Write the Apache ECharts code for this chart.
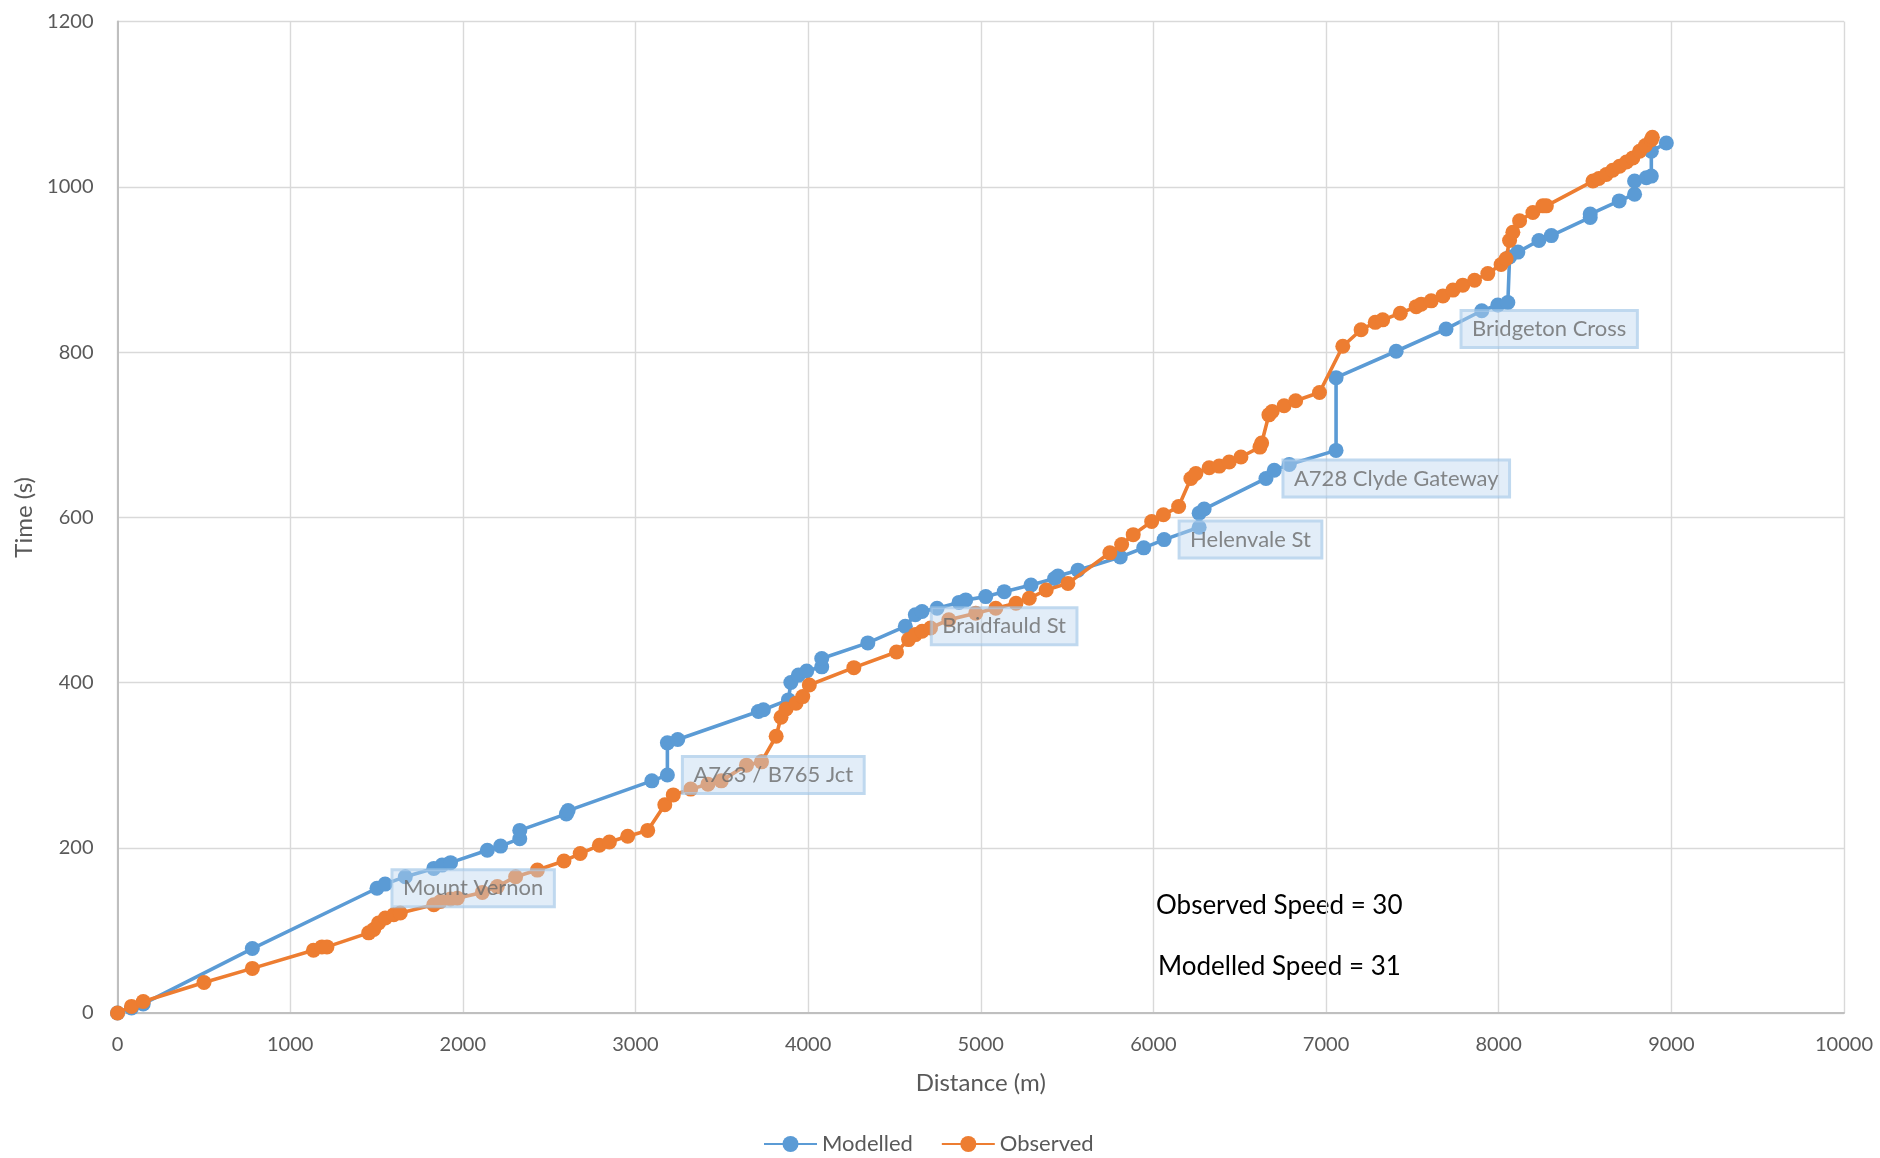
<!DOCTYPE html>
<html>
<head>
<meta charset="utf-8">
<script src="https://cdn.jsdelivr.net/npm/echarts@6/dist/echarts.min.js"></script>
<style>
html,body{margin:0;padding:0;background:#fff;}
#chart{width:1880px;height:1158px;}
</style>
</head>
<body>
<div id="chart"></div>
<script>
// ---- Data (distance in m, time in s) ----
const modelledDist = [0, 81, 149, 781, 1503, 1550, 1667, 1832, 1880, 1929, 2142, 2219, 2330, 2330, 2600, 2610,
  3095, 3185, 3185, 3245, 3712, 3741, 3886, 3900, 3944, 3992, 4079, 4079, 4346, 4563, 4621, 4660, 4747,
  4874, 4913, 5029, 5136, 5291, 5428, 5447, 5563, 5808, 5944, 6062, 6265, 6265, 6294, 6652, 6700, 6787,
  7058, 7058, 7406, 7695, 7902, 7995, 8053, 8063, 8111, 8233, 8305, 8530, 8530, 8698, 8787, 8787, 8855,
  8884, 8884, 8971];
const modelledTime = [0, 6, 11, 78, 151, 156, 165, 175, 179, 182, 197, 202, 211, 221, 241, 245,
  281, 288, 327, 331, 365, 367, 379, 400, 409, 414, 419, 429, 448, 468, 482, 486, 490,
  497, 500, 504, 510, 518, 526, 529, 536, 552, 563, 573, 588, 605, 610, 647, 657, 664,
  681, 769, 801, 828, 850, 857, 860, 915, 921, 935, 941, 963, 967, 983, 991, 1007, 1011,
  1013, 1043, 1053];

const observedDist = [0, 81, 149, 501, 781, 1135, 1184, 1213, 1455, 1484, 1512, 1551, 1600, 1638, 1832, 1871,
  1929, 1968, 2113, 2200, 2306, 2432, 2586, 2680, 2791, 2849, 2955, 3071, 3170, 3219, 3320, 3420, 3497,
  3643, 3730, 3815, 3843, 3872, 3930, 3969, 4007, 4265, 4512, 4582, 4621, 4660, 4709, 4815, 4971, 5087,
  5204, 5281, 5379, 5505, 5748, 5816, 5883, 5990, 6058, 6146, 6217, 6246, 6323, 6381, 6439, 6507, 6617,
  6627, 6669, 6688, 6757, 6824, 6962, 7097, 7203, 7285, 7328, 7430, 7522, 7551, 7609, 7677, 7735, 7792,
  7860, 7937, 8014, 8043, 8063, 8082, 8121, 8198, 8256, 8276, 8546, 8580, 8623, 8660, 8700, 8740, 8777,
  8816, 8850, 8884, 8890];
const observedTime = [0, 8, 14, 37, 54, 76, 80, 80, 97, 101, 109, 115, 119, 121, 131, 135,
  138, 139, 146, 153, 165, 173, 184, 193, 203, 207, 214, 221, 252, 264, 271, 277, 281,
  300, 304, 335, 358, 368, 375, 383, 397, 418, 437, 452, 458, 462, 466, 476, 484, 490,
  496, 502, 512, 520, 557, 567, 579, 595, 603, 613, 647, 653, 660, 662, 667, 673, 685,
  690, 724, 728, 735, 741, 751, 807, 827, 836, 839, 847, 855, 858, 862, 868, 875, 881,
  887, 895, 906, 913, 935, 945, 959, 969, 977, 977, 1007, 1010, 1015, 1020, 1025, 1030, 1035,
  1043, 1050, 1057, 1060];

const stopNames = ['Mount Vernon', 'A763 / B765 Jct', 'Braidfauld St', 'Helenvale St', 'A728 Clyde Gateway', 'Bridgeton Cross'];
const stopIndex = [4, 17, 29, 43, 47, 53]; // indices into modelled arrays

const xTicks = [0, 1000, 2000, 3000, 4000, 5000, 6000, 7000, 8000, 9000, 10000];
const yTicks = [0, 200, 400, 600, 800, 1000, 1200];

const observedSpeed = 30;
const modelledSpeed = 31;

// ---- Build ----
const modelled = modelledDist.map((d, i) => [d, modelledTime[i]]);
const observed = observedDist.map((d, i) => [d, observedTime[i]]);
const labelDistance = [15, 15, 26, 15, 17, 15];
const stops = stopIndex.map((idx, k) => ({
  value: [modelledDist[idx], modelledTime[idx]],
  name: stopNames[k],
  label: { distance: labelDistance[k] }
}));

const chart = echarts.init(document.getElementById('chart'), null, { renderer: 'canvas' });
const tickFont = { fontFamily: 'Lato', fontSize: 20, color: '#595959' };

chart.setOption({
  animation: false,
  backgroundColor: '#ffffff',
  grid: { left: 117.5, right: 36, top: 21.6, bottom: 145, containLabel: false },
  xAxis: {
    type: 'value', min: xTicks[0], max: xTicks[xTicks.length - 1], interval: xTicks[1] - xTicks[0],
    name: 'Distance (m)', nameLocation: 'middle', nameGap: 58,
    nameTextStyle: { fontFamily: 'Lato', fontSize: 24, color: '#595959' },
    axisLine: { show: true, lineStyle: { color: '#bfbfbf', width: 2 } },
    axisTick: { show: false },
    axisLabel: Object.assign({ margin: 22, formatter: v => String(v) }, tickFont),
    splitLine: { show: true, lineStyle: { color: '#d9d9d9', width: 1.4 } }
  },
  yAxis: {
    type: 'value', min: yTicks[0], max: yTicks[yTicks.length - 1], interval: yTicks[1] - yTicks[0],
    name: 'Time (s)', nameLocation: 'middle', nameGap: 80,
    nameTextStyle: { fontFamily: 'Lato', fontSize: 24, color: '#595959' },
    axisLine: { show: true, lineStyle: { color: '#bfbfbf', width: 2 } },
    axisTick: { show: false },
    axisLabel: Object.assign({ margin: 24, formatter: v => String(v) }, tickFont),
    splitLine: { show: true, lineStyle: { color: '#d9d9d9', width: 1.4 } }
  },
  legend: {
    data: ['Modelled', 'Observed'],
    left: 758, top: 1128,
    itemWidth: 53, itemHeight: 20, itemGap: 28,
    textStyle: { fontFamily: 'Lato', fontSize: 22, color: '#595959' }
  },
  graphic: [
    { type: 'text', left: 1156, top: 893, style: { text: 'Observed Speed = ' + observedSpeed, font: '26px Lato', fill: '#000' } },
    { type: 'text', left: 1158, top: 954, style: { text: 'Modelled Speed = ' + modelledSpeed, font: '26px Lato', fill: '#000' } }
  ],
  series: [
    {
      name: 'Modelled', type: 'line', data: modelled, z: 2,
      symbol: 'circle', symbolSize: 15, showAllSymbol: true,
      lineStyle: { color: '#5b9bd5', width: 3.6 },
      itemStyle: { color: '#5b9bd5' }
    },
    {
      name: 'Observed', type: 'line', data: observed, z: 3,
      symbol: 'circle', symbolSize: 15, showAllSymbol: true,
      lineStyle: { color: '#ed7d31', width: 3.6 },
      itemStyle: { color: '#ed7d31' }
    },
    {
      name: 'Stops', type: 'scatter', data: stops, z: 10,
      symbolSize: 0, silent: true,
      label: {
        show: true, position: 'right', distance: 15,
        formatter: p => p.name,
        fontFamily: 'Lato', fontSize: 22, color: '#6a6a6a',
        backgroundColor: 'rgba(189,215,238,0.55)',
        borderColor: 'rgba(157,195,230,0.8)', borderWidth: 1.5,
        padding: [8, 11, 7, 11]
      }
    }
  ]
});
</script>
</body>
</html>
